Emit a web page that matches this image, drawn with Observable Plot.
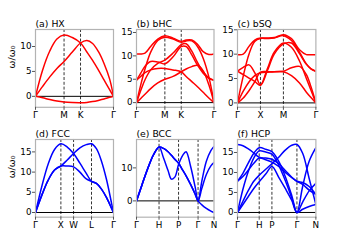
<!DOCTYPE html>
<html><head><meta charset="utf-8">
<script src="https://cdn.jsdelivr.net/npm/d3@7"></script>
<script src="https://cdn.jsdelivr.net/npm/@observablehq/plot@0.6"></script>
<style>
body{margin:0;background:#fff;}
#wrap{position:relative;width:350px;height:245px;overflow:hidden;background:#fff;font-family:"DejaVu Sans",sans-serif;}
#wrap svg{position:absolute;overflow:visible;}
</style></head><body><div id="wrap"></div>
<script>
// ---- (a) HX ----
const kA = [0, 0.25, 0.5, 0.75, 1, 1.29, 1.577, 1.8, 2.0, 2.2, 2.4, 2.6, 2.732];
const ticksA = [0, 1, 1.577, 2.732];
const labelsA = ["Γ", "M", "K", "Γ"];
const a1 = [0, -0.3, -0.65, -0.95, -1.15, -1.25, -1.28, -1.22, -1.05, -0.82, -0.55, -0.2, 0];
const a2 = [0, 5.3, 9.1, 11.5, 12.3, 11.8, 10.7, 8.9, 7.2, 5.3, 3.3, 1.3, 0];
const a3 = [0, 2.0, 3.9, 5.6, 7.0, 8.9, 10.7, 11.2, 10.6, 9.0, 6.6, 3.4, 0];

// ---- (b) bHC ----
const kB = [0, 0.15, 0.3, 0.5, 0.75, 1, 1.29, 1.577, 1.75, 1.95, 2.15, 2.35, 2.55, 2.732];
const ticksB = [0, 1, 1.577, 2.732];
const labelsB = ["Γ", "M", "K", "Γ"];
const b1 = [0, 0.9, 1.8, 3.0, 4.2, 5.0, 5.6, 6.6, 7.2, 7.7, 8.0, 6.8, 3.8, 0];
const b2 = [4.8, 5.6, 6.4, 7.0, 7.3, 7.3, 7.0, 6.6, 5.6, 4.5, 3.4, 2.2, 1.0, 0];
const b3 = [0, 2.6, 4.9, 7.0, 8.4, 9.1, 10.6, 12.4, 12.6, 11.0, 8.6, 6.6, 5.3, 4.8];
const b4 = [4.8, 6.3, 7.8, 8.8, 8.7, 8.3, 9.8, 12.0, 12.0, 10.2, 8.0, 6.3, 5.2, 4.8];
const b5 = [0, 3.8, 7.2, 10.8, 13.3, 14.0, 13.6, 12.9, 13.2, 13.2, 12.0, 9.5, 5.5, 0];
const b6 = [10.4, 10.4, 10.6, 12.0, 13.6, 14.3, 13.8, 13.1, 13.4, 13.4, 12.5, 10.9, 10.3, 10.4];

// ---- (c) bSQ ----
const kC = [0, 0.25, 0.5, 0.75, 1, 1.3, 1.6, 2, 2.35, 2.7, 3.0, 3.2, 3.414];
const ticksC = [0, 1, 2, 3.414];
const labelsC = ["Γ", "X", "M", "Γ"];
const c1 = [9.9, 10.0, 11.6, 12.9, 13.3, 13.3, 13.4, 14.0, 13.2, 10.9, 9.9, 9.9, 9.9];
const c2 = [0, 5.5, 10.0, 12.6, 13.2, 13.2, 13.3, 13.8, 12.8, 10.4, 8.0, 7.0, 6.5];
const c3 = [6.5, 7.3, 7.8, 6.2, 3.7, 7.0, 10.4, 12.3, 11.4, 8.6, 5.0, 2.6, 0];
const c4 = [6.5, 5.8, 5.1, 4.4, 3.6, 6.6, 10.0, 12.1, 12.3, 10.1, 7.9, 7.0, 6.5];
const c5 = [0, 2.4, 4.3, 5.6, 6.2, 6.3, 6.4, 6.5, 7.2, 7.5, 5.8, 3.3, 0];
const c6 = [0, 1.0, 2.5, 4.3, 6.3, 6.4, 6.4, 6.4, 5.6, 4.1, 2.2, 1.1, 0];

// ---- (d) FCC ----
const kD = [0, 0.25, 0.5, 0.75, 1, 1.25, 1.5, 1.75, 2.0, 2.207, 2.4, 2.6, 2.8, 3.0, 3.073];
const ticksD = [0, 1, 1.5, 2.207, 3.073];
const labelsD = ["Γ", "X", "W", "L", "Γ"];
const d1 = [0, 6.5, 12.0, 15.6, 17.0, 16.2, 14.6, 12.2, 9.7, 7.7, 7.2, 5.8, 3.7, 1.0, 0];
const d2 = [0, 4.3, 8.0, 10.5, 11.5, 13.0, 14.6, 16.0, 16.8, 17.0, 15.8, 12.7, 8.1, 2.2, 0];
const d3 = [0, 4.3, 8.0, 10.5, 11.5, 11.5, 11.3, 10.0, 8.3, 7.7, 7.2, 5.8, 3.7, 1.0, 0];

// ---- (e) BCC ----
const kE = [0, 0.25, 0.5, 0.75, 1, 1.2, 1.4, 1.55, 1.7, 1.866, 2.05, 2.2, 2.4, 2.6, 2.732, 2.9, 3.1, 3.3, 3.439];
const ticksE = [0, 1, 1.866, 2.732, 3.439];
const labelsE = ["Γ", "H", "P", "Γ", "N"];
const e1 = [0, 5.0, 9.8, 13.9, 16.3, 13.0, 9.2, 6.6, 7.2, 11.0, 13.8, 14.9, 10.5, 4.3, 0, 6.0, 12.0, 15.2, 16.5];
const e2 = [0, 5.0, 9.8, 13.9, 16.3, 15.9, 14.9, 13.8, 12.6, 11.4, 9.3, 7.6, 5.0, 2.1, 0, 3.8, 8.0, 10.6, 11.6];
const e3 = [0, 5.0, 9.8, 13.9, 16.3, 15.9, 14.9, 13.8, 12.6, 11.4, 9.3, 7.6, 5.0, 2.1, 0, -1.2, -2.3, -3.1, -3.5];

// ---- (f) HCP ----
const kF = [0, 0.25, 0.5, 0.75, 1, 1.3, 1.585, 1.9, 2.2, 2.5, 2.737, 3.0, 3.3, 3.61];
const ticksF = [0, 1, 1.585, 2.737, 3.61];
const labelsF = ["Γ", "H", "P", "Γ", "N"];
const f1 = [17.0, 16.7, 15.9, 14.9, 13.8, 13.6, 13.3, 12.2, 10.5, 8.8, 7.8, 7.5, 6.5, 4.5];
const f2 = [7.8, 9.8, 12.4, 14.8, 16.2, 15.8, 15.2, 12.8, 9.0, 4.2, 0, 6.5, 12.8, 16.2];
const f3 = [0, 5.8, 10.3, 13.6, 15.4, 15.1, 14.6, 11.8, 8.0, 3.6, 0, 2.6, 5.4, 7.3];
const f4 = [7.8, 9.0, 10.6, 12.3, 13.6, 13.2, 12.6, 11.5, 10.0, 8.7, 7.8, 7.0, 5.6, 4.5];
const f5 = [0, 2.8, 5.5, 7.8, 9.3, 10.8, 12.2, 13.8, 15.6, 16.8, 17.0, 14.8, 8.5, 2.0];
const f6 = [0, 2.0, 4.0, 6.0, 7.7, 9.6, 11.5, 8.8, 6.0, 3.0, 0, 0.8, 1.5, 2.0];

// ---- layout ----
const cols = [[35, 113], [136, 213.5], [237.3, 315.7]];
const rows = [[29, 106.8], [139.3, 217]];
const RED = "#ff0000", BLUE = "#0000ff";

const panels = [
  {title: "(a) HX", k: kA, bands: [a1, a2, a3], ticks: ticksA, labels: labelsA, yd: [-2.2, 13.41], yt: [0, 5, 10], color: RED, col: 0, row: 0, ylab: true},
  {title: "(b) bHC", k: kB, bands: [b1, b2, b3, b4, b5, b6], ticks: ticksB, labels: labelsB, yd: [-1.0, 15.64], yt: [0, 5, 10, 15], color: RED, col: 1, row: 0},
  {title: "(c) bSQ", k: kC, bands: [c1, c2, c3, c4, c5, c6], ticks: ticksC, labels: labelsC, yd: [-0.9, 15.06], yt: [0, 5, 10, 15], color: RED, col: 2, row: 0},
  {title: "(d) FCC", k: kD, bands: [d1, d2, d3], ticks: ticksD, labels: labelsD, yd: [-1.16, 18.07], yt: [0, 5, 10, 15], color: BLUE, col: 0, row: 1, ylab: true},
  {title: "(e) BCC", k: kE, bands: [e1, e2, e3], ticks: ticksE, labels: labelsE, yd: [-4.94, 18.6], yt: [0, 10], color: BLUE, col: 1, row: 1},
  {title: "(f) HCP", k: kF, bands: [f1, f2, f3, f4, f5, f6], ticks: ticksF, labels: labelsF, yd: [-1.18, 18.25], yt: [0, 5, 10, 15], color: BLUE, col: 2, row: 1}
];

const wrap = document.getElementById("wrap");
const mL = 34, mR = 6, mT = 16, mB = 14;
for (const p of panels) {
  const [x0, x1] = cols[p.col], [y0, y1] = rows[p.row];
  const marks = [
    Plot.ruleX(p.ticks.slice(1, -1), {stroke: "black", strokeWidth: 0.8, strokeDasharray: "3,1.8"}),
    Plot.ruleY([0], {stroke: "black", strokeWidth: 1}),
    ...p.bands.map(b => Plot.line(p.k.map((k, i) => ({k, w: b[i]})), {x: "k", y: "w", stroke: p.color, strokeWidth: 1.5, curve: "catmull-rom", clip: true})),
    Plot.frame({stroke: "#b3b3b3", strokeWidth: 1.2}),
    Plot.axisY(p.yt, {tickSize: 3, tickPadding: 1, label: null, stroke: "#555", fontSize: 8.8}),
    Plot.axisX(p.ticks, {tickSize: 3, tickPadding: 1.2, label: null, stroke: "#555", fontSize: 8.8, tickFormat: d => p.labels[p.ticks.indexOf(d)]}),
    Plot.text([p.title], {text: d => d, frameAnchor: "top-left", dy: -2.5, lineAnchor: "bottom", textAnchor: "start", fontSize: 9.3})
  ];
  if (p.ylab) marks.push(Plot.text(["ω/ω₀"], {text: d => d, frameAnchor: "left", dx: -24, rotate: -90, fontSize: 9.5}));
  const svg = Plot.plot({
    width: x1 - x0 + mL + mR, height: y1 - y0 + mT + mB,
    marginLeft: mL, marginRight: mR, marginTop: mT, marginBottom: mB,
    x: {domain: [0, p.ticks[p.ticks.length - 1]]},
    y: {domain: p.yd},
    style: {fontFamily: "DejaVu Sans", fontSize: "8.8px", background: "transparent", color: "black"},
    marks
  });
  svg.style.left = (x0 - mL) + "px";
  svg.style.top = (y0 - mT) + "px";
  wrap.appendChild(svg);
}
</script></body></html>
